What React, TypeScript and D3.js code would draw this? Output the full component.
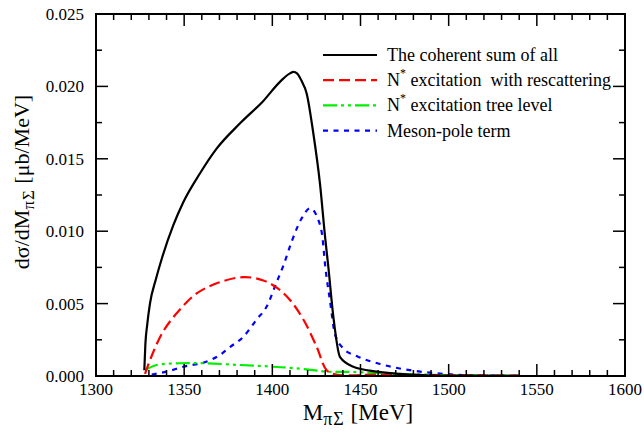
import React from "react";
import * as d3 from "d3";

const totalMass = [1327.4, 1328, 1329, 1330.6, 1334, 1337.3, 1343.8, 1349.5, 1359, 1368.4, 1381.7, 1394.9, 1405, 1410, 1412, 1414, 1416.5, 1419.5, 1423.2, 1427, 1430, 1431.7, 1434.6, 1438.4, 1445.9, 1459.2, 1478, 1500, 1540];
const totalVal = [0.0004, 0.0022, 0.0035, 0.005, 0.0067, 0.0081, 0.0104, 0.012, 0.014, 0.0157, 0.01745, 0.019, 0.0204, 0.0209, 0.021, 0.0209, 0.0204, 0.0195, 0.0168, 0.0133, 0.0095, 0.0076, 0.0041, 0.0013, 0.00064, 0.0003, 0.0001, 0.00003, 0.00001];

const rescMass = [1327.8, 1331.6, 1338.2, 1347.6, 1357.1, 1368.4, 1383.5, 1394.9, 1402.5, 1410, 1417.6, 1425.2, 1430.8, 1436, 1460, 1500, 1540];
const rescVal = [0.00014, 0.0014, 0.0031, 0.0046, 0.0057, 0.0064, 0.00683, 0.0066, 0.0061, 0.00525, 0.0039, 0.002, 0.0004, 0.0001, 0.0001, 0.00005, 0.00002];

const treeMass = [1327.8, 1334.4, 1347.6, 1360.9, 1381.7, 1400.6, 1419.5, 1430.8, 1445, 1470, 1500, 1540];
const treeVal = [0.0004, 0.00076, 0.00088, 0.00088, 0.00076, 0.00064, 0.00046, 0.0003, 0.00028, 0.00015, 0.00006, 0.00002];

const poleMass = [1331.6, 1340, 1349.5, 1362.8, 1370.3, 1376, 1383.5, 1391.1, 1396.8, 1402.5, 1406.2, 1411, 1416.7, 1421.4, 1426, 1428.5, 1429.9, 1432.7, 1435.5, 1440.3, 1447.8, 1461, 1478, 1493.2, 1508, 1540];
const poleVal = [0.0001, 0.0003, 0.00064, 0.001, 0.00145, 0.002, 0.0027, 0.0039, 0.0048, 0.0065, 0.0076, 0.0093, 0.0109, 0.01158, 0.0108, 0.0095, 0.0077, 0.0052, 0.0029, 0.0019, 0.00138, 0.00083, 0.0004, 0.00019, 0.00007, 0.00001];

const xTicks = [1300, 1350, 1400, 1450, 1500, 1550, 1600];
const yTicks = [0, 0.005, 0.01, 0.015, 0.02, 0.025];
const legendLabels = ["The coherent sum of all", "excitation  with rescattering", "excitation tree level", "Meson-pole term"];

const W = 644, H = 434;
const L = 96, R = 625, T = 14, B = 376;
const FONT = "Liberation Serif, DejaVu Serif, serif";

export default function App() {
  const x = d3.scaleLinear().domain([1300, 1600]).range([L, R]);
  const y = d3.scaleLinear().domain([0, 0.025]).range([B, T]);
  const mk = (ms: number[], vs: number[], curve: d3.CurveFactory) =>
    d3.line<number>().x((_, i) => x(ms[i])).y((v) => y(v)).curve(curve)(vs) || "";

  const series = [
    { d: mk(totalMass, totalVal, d3.curveMonotoneX), color: "#000", dash: "" },
    { d: mk(rescMass, rescVal, d3.curveCatmullRom.alpha(0.5)), color: "#ff0000", dash: "11,5" },
    { d: mk(treeMass, treeVal, d3.curveCatmullRom.alpha(0.5)), color: "#00ee00", dash: "14,4,3,4,3,4" },
    { d: mk(poleMass, poleVal, d3.curveMonotoneX), color: "#0000ff", dash: "5,5.5" },
  ];

  const xMinor = d3.range(1300, 1601, 10);
  const yMinor = d3.range(0, 0.02501, 0.0025);

  return (
    <svg width={W} height={H} style={{ position: "absolute", left: 0, top: 0, background: "#fff", fontFamily: FONT }}>
      <rect x={0} y={0} width={W} height={H} fill="#fff" />
      <defs>
        <clipPath id="clip">
          <rect x={L} y={T} width={R - L} height={B - T} />
        </clipPath>
      </defs>
      <g clipPath="url(#clip)">
        {series.slice().reverse().map((s, i) => (
          <path key={i} d={s.d} fill="none" stroke={s.color} strokeWidth={2.2} strokeDasharray={s.dash || undefined} />
        ))}
      </g>
      {xMinor.map((v, i) => {
        const major = Math.round(v) % 50 === 0;
        const len = major ? 12 : 6;
        return (
          <g key={"xt" + i} stroke="#000" strokeWidth={1.5}>
            <line x1={x(v)} x2={x(v)} y1={B} y2={B - len} />
            <line x1={x(v)} x2={x(v)} y1={T} y2={T + len} />
          </g>
        );
      })}
      {yMinor.map((v, i) => {
        const major = i % 2 === 0;
        const len = major ? 12 : 6;
        return (
          <g key={"yt" + i} stroke="#000" strokeWidth={1.5}>
            <line x1={L} x2={L + len} y1={y(v)} y2={y(v)} />
            <line x1={R} x2={R - len} y1={y(v)} y2={y(v)} />
          </g>
        );
      })}
      <rect x={L} y={T} width={R - L} height={B - T} fill="none" stroke="#000" strokeWidth={2} />
      {xTicks.map((v) => (
        <text key={"xl" + v} x={x(v)} y={395} fontSize={17} textAnchor="middle" style={{ fontFamily: FONT }}>{v}</text>
      ))}
      {yTicks.map((v) => (
        <text key={"yl" + v} x={84} y={y(v) + 6} fontSize={17} textAnchor="end" style={{ fontFamily: FONT }}>{v.toFixed(3)}</text>
      ))}
      <text x={358} y={420} fontSize={23} textAnchor="middle" style={{ fontFamily: FONT }}>
        M<tspan fontSize={18} dy={5} letterSpacing={1}>πΣ</tspan><tspan dy={-5}> [MeV]</tspan>
      </text>
      <text transform="translate(29,182) rotate(-90)" fontSize={22} textAnchor="middle" style={{ fontFamily: FONT }}>
        dσ/dM<tspan fontSize={17} dy={5} letterSpacing={1}>πΣ</tspan><tspan dy={-5}> [μb/MeV]</tspan>
      </text>
      {series.map((s, i) => {
        const ly = 55 + i * 25.2;
        return (
          <g key={"lg" + i}>
            <line x1={323} x2={377} y1={ly} y2={ly} stroke={s.color} strokeWidth={2.2} strokeDasharray={s.dash || undefined} />
            <text x={387} y={ly + 6} fontSize={18} style={{ fontFamily: FONT, whiteSpace: "pre" }}>
              {i === 1 || i === 2 ? (
                <>
                  N<tspan fontSize={12} dy={-9}>*</tspan><tspan dy={9}> {legendLabels[i]}</tspan>
                </>
              ) : (
                legendLabels[i]
              )}
            </text>
          </g>
        );
      })}
    </svg>
  );
}
